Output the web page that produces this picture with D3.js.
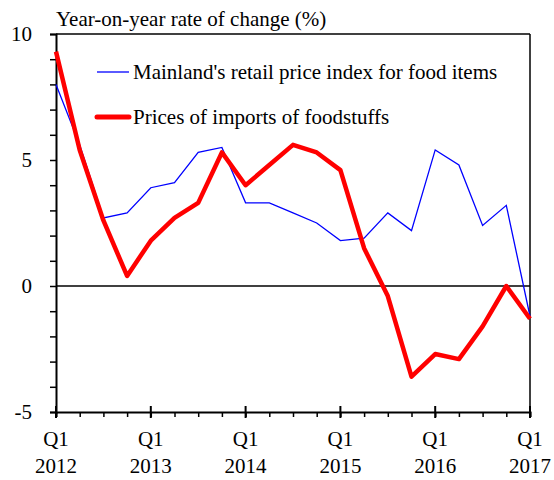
<!DOCTYPE html>
<html>
<head>
<meta charset="utf-8">
<script src="https://cdn.jsdelivr.net/npm/d3@7"></script>
<style>
  body { margin: 0; background: #fff; }
  text { font-family: "Liberation Serif", "Times New Roman", serif; fill: #000; }
</style>
</head>
<body>
<div id="chart"></div>
<script>
// quarters Q1 2012 .. Q1 2017
var quarters = ["2012Q1","2012Q2","2012Q3","2012Q4","2013Q1","2013Q2","2013Q3","2013Q4",
  "2014Q1","2014Q2","2014Q3","2014Q4","2015Q1","2015Q2","2015Q3","2015Q4",
  "2016Q1","2016Q2","2016Q3","2016Q4","2017Q1"];
var retailFood = [8.0, 5.6, 2.7, 2.9, 3.9, 4.1, 5.3, 5.5, 3.3, 3.3, 2.9, 2.5,
  1.8, 1.9, 2.9, 2.2, 5.4, 4.8, 2.4, 3.2, -1.2];
var importFood = [9.3, 5.4, 2.6, 0.4, 1.8, 2.7, 3.3, 5.3, 4.0, 4.8, 5.6, 5.3,
  4.6, 1.5, -0.4, -3.6, -2.7, -2.9, -1.6, 0.0, -1.3];
var yTicks = [10, 5, 0, -5];
var yearLabels = ["2012","2013","2014","2015","2016","2017"];

var margin = {top: 34, right: 24, bottom: 68, left: 56},
    width = 554 - margin.left - margin.right,
    height = 480 - margin.top - margin.bottom;

var svg = d3.select("#chart")
  .append("svg")
    .attr("width", 554)
    .attr("height", 480)
  .append("g")
    .attr("transform", "translate(" + margin.left + "," + margin.top + ")");

var x = d3.scaleLinear()
  .domain([0, quarters.length - 1])
  .range([0, width]);

var y = d3.scaleLinear()
  .domain([-5, 10])
  .range([height, 0]);

// frame: top and right
svg.append("line")
  .attr("x1", 0).attr("x2", width).attr("y1", 0).attr("y2", 0)
  .attr("stroke", "#000").attr("stroke-width", 1.5);
svg.append("line")
  .attr("x1", width).attr("x2", width).attr("y1", 0).attr("y2", height)
  .attr("stroke", "#000").attr("stroke-width", 1.5);

// zero line
svg.append("line")
  .attr("x1", 0).attr("x2", width).attr("y1", y(0)).attr("y2", y(0))
  .attr("stroke", "#000").attr("stroke-width", 1.5);

// y axis with minor ticks every 1
var yAxis = svg.append("g")
  .call(d3.axisLeft(y).tickValues(d3.range(-5, 11, 1)).tickSize(6).tickFormat(""));
yAxis.select(".domain").attr("stroke-width", 2);
yAxis.selectAll(".tick line").attr("stroke-width", 1.5);

svg.selectAll(".ylab")
  .data(yTicks)
  .enter()
  .append("text")
    .attr("class", "ylab")
    .attr("x", -24)
    .attr("y", function(d) { return y(d); })
    .attr("dy", "0.35em")
    .attr("text-anchor", "end")
    .style("font-size", "21px")
    .text(function(d) { return d; });

// x axis: minor ticks outward, major ticks crossing
var xAxis = svg.append("g")
  .attr("transform", "translate(0," + height + ")")
  .call(d3.axisBottom(x).tickValues(d3.range(0, quarters.length)).tickSize(5).tickFormat(""));
xAxis.select(".domain").attr("stroke-width", 2);
xAxis.selectAll(".tick line").attr("stroke-width", 1.5);

var majors = d3.range(0, quarters.length, 4);
svg.selectAll(".major")
  .data(majors)
  .enter()
  .append("line")
    .attr("x1", function(d) { return x(d); })
    .attr("x2", function(d) { return x(d); })
    .attr("y1", height - 6)
    .attr("y2", height + 6)
    .attr("stroke", "#000")
    .attr("stroke-width", 2);

var xl = svg.selectAll(".xlab")
  .data(majors)
  .enter()
  .append("text")
    .attr("class", "xlab")
    .attr("text-anchor", "middle")
    .style("font-size", "21px");
xl.append("tspan")
  .attr("x", function(d) { return x(d); })
  .attr("y", height + 34)
  .text("Q1");
xl.append("tspan")
  .attr("x", function(d) { return x(d); })
  .attr("y", height + 61)
  .text(function(d, i) { return yearLabels[i]; });

// lines
var line = function(vals) {
  return d3.line()
    .x(function(d, i) { return x(i); })
    .y(function(d) { return y(d); })(vals);
};

svg.append("path")
  .attr("d", line(retailFood))
  .attr("fill", "none")
  .attr("stroke", "#0000ff")
  .attr("stroke-width", 1.3);

svg.append("path")
  .attr("d", line(importFood))
  .attr("fill", "none")
  .attr("stroke", "#ff0000")
  .attr("stroke-width", 4.5)
  .attr("stroke-linejoin", "round");

// title
svg.append("text")
  .attr("x", 0)
  .attr("y", -8)
  .style("font-size", "21px")
  .text("Year-on-year rate of change (%)");

// legend
var legend = [
  {label: "Mainland's retail price index for food items", color: "#0000ff", w: 1.3, y: 72},
  {label: "Prices of imports of foodstuffs", color: "#ff0000", w: 5, y: 117}
];
var lg = svg.selectAll(".leg")
  .data(legend)
  .enter()
  .append("g")
    .attr("transform", function(d) { return "translate(41," + (d.y - margin.top) + ")"; });
lg.append("line")
  .attr("x1", 0).attr("x2", 32)
  .attr("stroke", function(d) { return d.color; })
  .attr("stroke-width", function(d) { return d.w; })
  .attr("stroke-linecap", function(d) { return d.w > 2 ? "round" : "butt"; });
lg.append("text")
  .attr("x", 36)
  .attr("dy", "0.35em")
  .style("font-size", "21px")
  .text(function(d) { return d.label; });
</script>
</body>
</html>
